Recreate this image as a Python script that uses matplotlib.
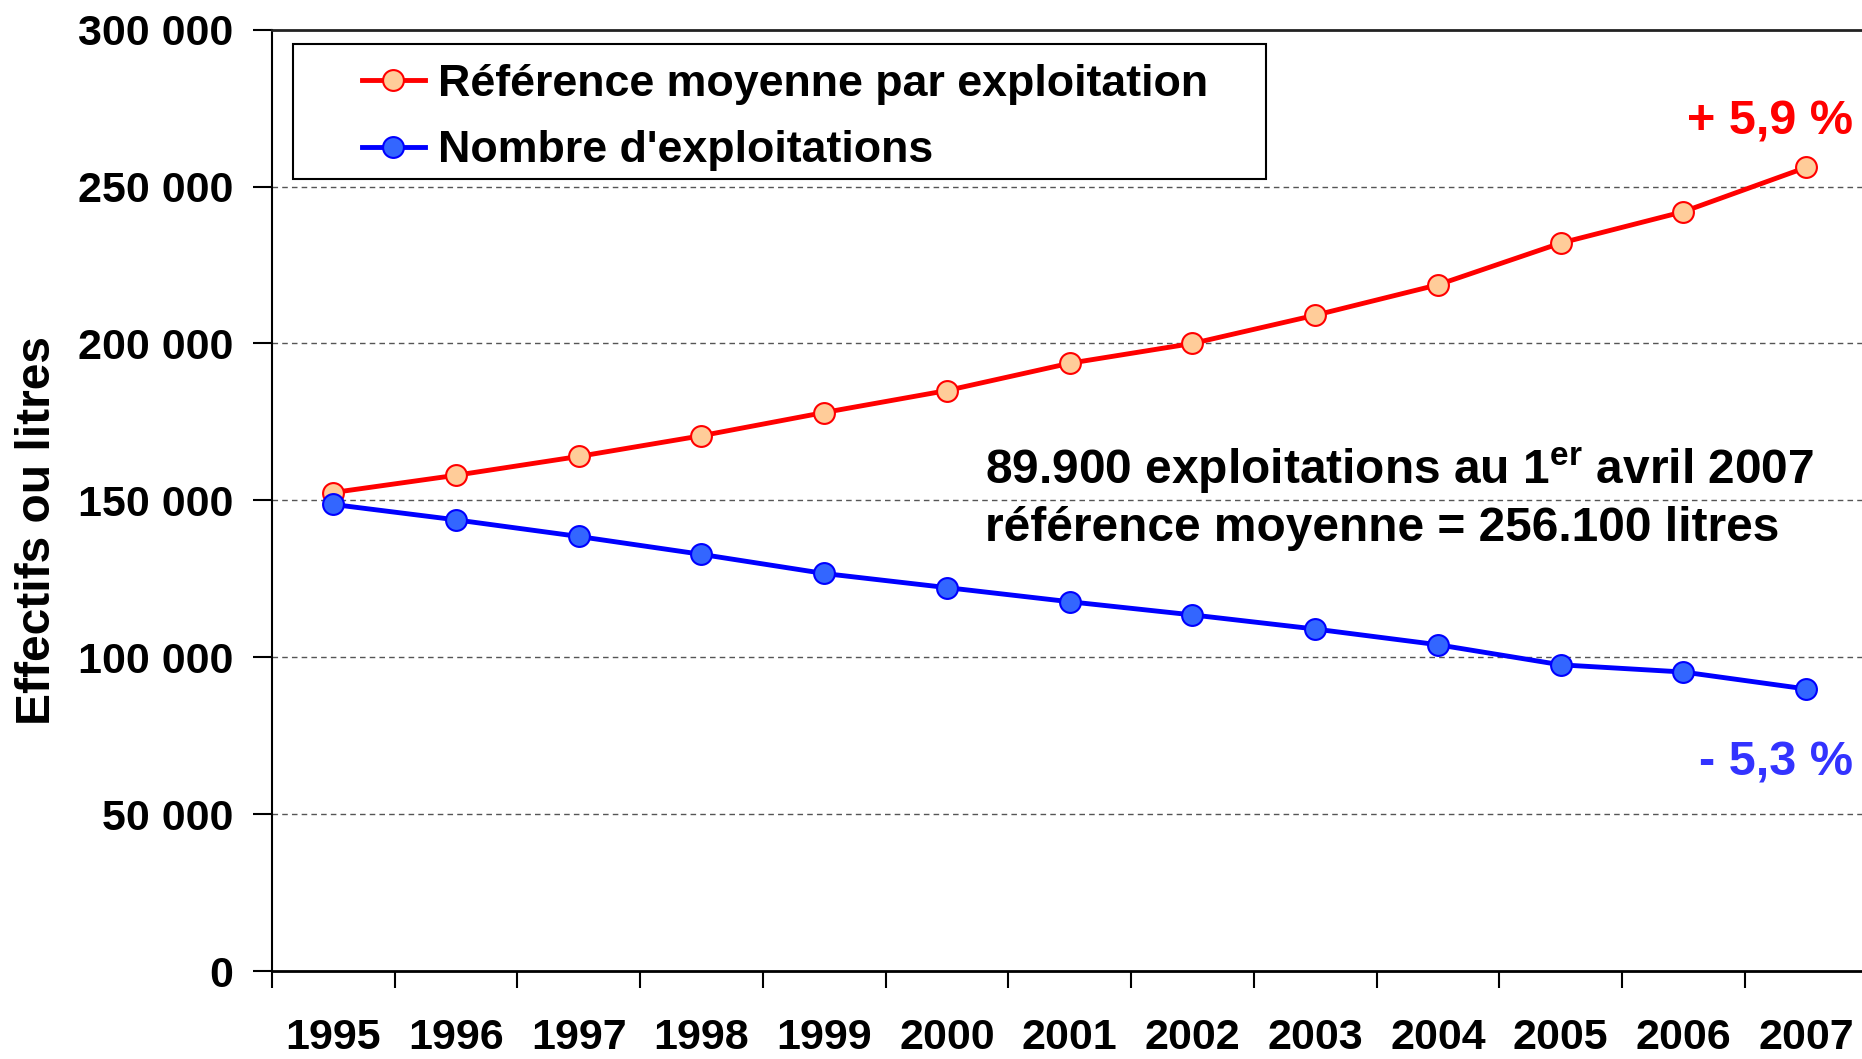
import numpy as np
import matplotlib
matplotlib.use("Agg")
import matplotlib.pyplot as plt
from matplotlib.patches import Rectangle
from matplotlib.ticker import FuncFormatter, FixedLocator

# data
years = ["1995", "1996", "1997", "1998", "1999", "2000", "2001",
         "2002", "2003", "2004", "2005", "2006", "2007"]
reference = [152500, 158000, 164000, 170600, 178000, 185000, 193700,
             200000, 209000, 218700, 232000, 242000, 256100]
exploitations = [148700, 143800, 138500, 132800, 126700, 122200, 117700,
                 113500, 109000, 104000, 97600, 95300, 89900]
yticks = [0, 50000, 100000, 150000, 200000, 250000, 300000]

plt.rcParams['font.family'] = ['Liberation Sans', 'DejaVu Sans']
plt.rcParams['font.weight'] = 'bold'
plt.rcParams['mathtext.fontset'] = 'custom'
plt.rcParams['mathtext.rm'] = 'Liberation Sans:bold'
plt.rcParams['mathtext.bf'] = 'Liberation Sans:bold'

fs = 31

fig = plt.figure(figsize=(18.62, 10.59), dpi=100)
ax = fig.add_axes([0.146, 0.083, 0.857, 0.889])

x = np.arange(len(years))
ax.plot(x, reference, color='#FF0000', lw=3.5, marker='o', ms=15,
        mfc='#FFCC99', mec='#FF0000', mew=1.5, zorder=3,
        label="Référence moyenne par exploitation")
ax.plot(x, exploitations, color='#0000FF', lw=3.5, marker='o', ms=15,
        mfc='#3366FF', mec='#0000FF', mew=1.5, zorder=3,
        label="Nombre d'exploitations")

ax.set_xlim(-0.5, len(years) - 0.5)
ax.set_ylim(0, 300000)

ax.yaxis.set_major_locator(FixedLocator(yticks))
ax.yaxis.set_major_formatter(FuncFormatter(lambda v, p: f"{int(v):,}".replace(",", " ")))
for v in yticks[1:-1]:
    ax.axhline(v, color='#555555', lw=1.0, ls=(0, (4, 3)), zorder=1)

ax.set_xticks(np.arange(len(years) + 1) - 0.5)
ax.set_xticklabels([])
ax.set_xticks(x, minor=True)
ax.set_xticklabels(years, minor=True, fontsize=fs, fontweight='bold')
ax.tick_params(axis='x', which='minor', length=0, pad=34)
ax.tick_params(axis='x', which='major', length=12, width=1.5, direction='out')
ax.tick_params(axis='y', length=14, width=1.5, direction='out', labelsize=fs, pad=14)
for lab in ax.get_yticklabels():
    lab.set_fontweight('bold')

ax.spines['right'].set_visible(False)
ax.spines['top'].set_color('#222222')
ax.spines['top'].set_linewidth(2)
ax.spines['left'].set_linewidth(1.5)
ax.spines['bottom'].set_linewidth(2)

ax.set_ylabel("Effectifs ou litres", fontsize=34.5, fontweight='bold')
ax.yaxis.set_label_coords(-0.133, 0.468)

# legend box drawn separately, legend itself frameless
ax.add_patch(Rectangle((0.0134, 0.841), 0.6094, 0.144, transform=ax.transAxes,
                       fill=True, facecolor='white', edgecolor='black',
                       lw=1.5, zorder=4))
leg = ax.legend(loc='upper left', bbox_to_anchor=(0.0565, 0.964), fontsize=32.2,
                frameon=False, borderpad=0, handlelength=1.4,
                handletextpad=0.3, labelspacing=0.58, borderaxespad=0)
leg.set_zorder(5)
for t in leg.get_texts():
    t.set_fontweight('bold')

ax.text(5.31, 159300, r"89.900 exploitations au 1$^{\rm er}$ avril 2007",
        fontsize=34.5, fontweight='bold', va='center', ha='left')
ax.text(5.31, 141000, "référence moyenne = 256.100 litres",
        fontsize=34.5, fontweight='bold', va='center', ha='left')

ax.text(12.38, 270500, "+ 5,9 %", color='#FF0000', fontsize=35,
        fontweight='bold', ha='right', va='center')
ax.text(12.38, 66200, "- 5,3 %", color='#3333FF', fontsize=35,
        fontweight='bold', ha='right', va='center')

fig.savefig("out.png", dpi=100)
